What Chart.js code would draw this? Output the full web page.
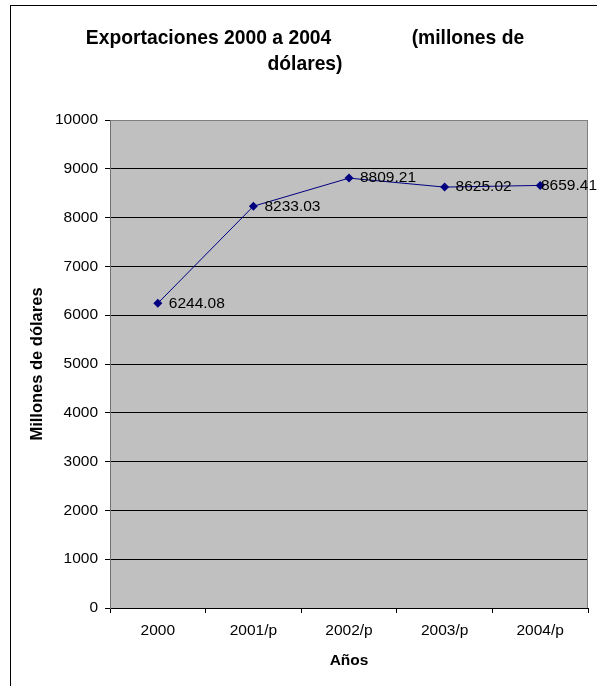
<!DOCTYPE html>
<html>
<head>
<meta charset="utf-8">
<script src="https://cdn.jsdelivr.net/npm/chart.js@4/dist/chart.umd.min.js"></script>
<style>
  body { margin: 0; background: #fff; }
  canvas { display: block; }
</style>
</head>
<body>
<canvas id="line-chart" width="597" height="686"></canvas>
<script>
const years = ['2000', '2001/p', '2002/p', '2003/p', '2004/p']
const exportValues = [6244.08, 8233.03, 8809.21, 8625.02, 8659.41]
const yMin = 0
const yMax = 10000
const yStep = 1000

const titleLines = ['Exportaciones 2000 a 2004               (millones de', 'dólares)']

const fontFamily = 'Arial, "Liberation Sans", sans-serif'
const lineColor = '#000080'    // Navy
const plotColor = '#c0c0c0'    // Excel grey
const frameColor = '#808080'   // Plot border

// White page, outer frame and grey plot area
const chartFrame = {
  id: 'chartFrame',
  beforeDraw (chart) {
    const ctx = chart.ctx
    const area = chart.chartArea
    ctx.save()
    ctx.fillStyle = '#fff'
    ctx.fillRect(0, 0, chart.width, chart.height)
    ctx.strokeStyle = '#000'
    ctx.lineWidth = 1
    ctx.strokeRect(10.5, 5.5, chart.width + 20, chart.height + 20)
    ctx.fillStyle = plotColor
    ctx.fillRect(area.left, area.top, area.right - area.left, area.bottom - area.top)
    ctx.restore()
  },
  beforeDatasetsDraw (chart) {
    const ctx = chart.ctx
    const area = chart.chartArea
    ctx.save()
    ctx.strokeStyle = frameColor
    ctx.lineWidth = 1
    ctx.beginPath()
    ctx.moveTo(area.right - 0.5, area.top)
    ctx.lineTo(area.right - 0.5, area.bottom)
    ctx.stroke()
    ctx.restore()
  }
}

// Value next to each point, pushed back inside the canvas at the right edge
const pointLabels = {
  id: 'pointLabels',
  afterDatasetsDraw (chart) {
    const ctx = chart.ctx
    const meta = chart.getDatasetMeta(0)
    ctx.save()
    ctx.font = '15.5px ' + fontFamily
    ctx.fillStyle = '#000'
    ctx.textBaseline = 'middle'
    ctx.textAlign = 'left'
    meta.data.forEach((pt, i) => {
      const text = exportValues[i].toFixed(2)
      const w = ctx.measureText(text).width
      const x = Math.min(pt.x + 11, chart.width - w)
      ctx.fillText(text, x, pt.y)
    })
    ctx.restore()
  }
}

new Chart(document.getElementById('line-chart'), {
  type: 'line',
  data: {
    labels: years,
    datasets: [{
      label: 'Exportaciones',
      data: exportValues,
      borderColor: lineColor,
      backgroundColor: lineColor,
      borderWidth: 1,
      pointStyle: 'rectRot',
      pointRadius: 4.5,
      pointBorderWidth: 0,
      tension: 0
    }]
  },
  options: {
    responsive: false,
    animation: false,
    layout: { padding: { left: 22, right: 9, top: 0, bottom: 0 } },
    plugins: {
      legend: { display: false },
      tooltip: { enabled: false },
      title: {
        display: true,
        text: titleLines,
        color: '#000',
        font: { family: fontFamily, size: 19.3, weight: 'bold', lineHeight: '26px' },
        padding: { top: 26, bottom: 42 }
      }
    },
    scales: {
      x: {
        offset: true,
        grid: { offset: true, drawOnChartArea: false, tickLength: 5, color: '#000' },
        border: { color: '#000' },
        ticks: { color: '#000', padding: 8, maxRotation: 0, font: { family: fontFamily, size: 15.5 } },
        title: {
          display: true,
          text: 'Años',
          color: '#000',
          font: { family: fontFamily, size: 15.5, weight: 'bold' },
          padding: { top: 0, bottom: 16 }
        },
        afterFit (scale) { scale.height = 78 }
      },
      y: {
        min: yMin,
        max: yMax,
        ticks: {
          stepSize: yStep,
          color: '#000',
          padding: 7,
          font: { family: fontFamily, size: 15.5 },
          callback: (v) => String(v)
        },
        grid: {
          color: (c) => (c.tick && c.tick.value === yMax ? frameColor : '#000'),
          tickColor: '#000',
          tickLength: 5
        },
        border: { color: '#707070' },
        title: {
          display: true,
          text: 'Millones de dólares',
          color: '#000',
          font: { family: fontFamily, size: 16.5, weight: 'bold' },
          padding: { top: 6, bottom: 0 }
        },
        afterFit (scale) { scale.width = 88 }
      }
    }
  },
  plugins: [chartFrame, pointLabels]
})
</script>
</body>
</html>
